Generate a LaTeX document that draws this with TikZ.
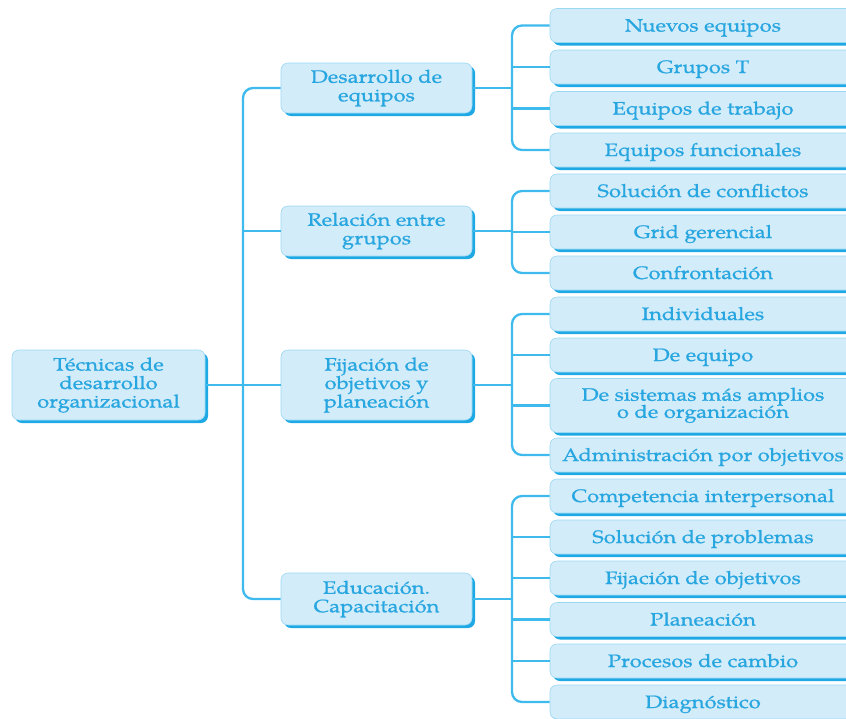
\documentclass[tikz,border=0pt]{standalone}
\usepackage{fontspec}
\setmainfont[FakeStretch=1.22,FakeBold=0.8]{TeX Gyre Pagella}
\usetikzlibrary{shadows}
\definecolor{fillblue}{RGB}{210,236,250}
\definecolor{edgeblue}{RGB}{30,168,228}
\definecolor{textblue}{RGB}{40,166,224}
\definecolor{lineblue}{RGB}{62,186,237}
\begin{document}
\begin{tikzpicture}[x=1pt,y=-1pt,
  box/.style={fill=fillblue, draw=edgeblue!45, line width=0.6pt, rounded corners=7pt,
    text=textblue, align=center, inner sep=0pt,
    font=\fontsize{18}{18.5}\selectfont,
    drop shadow={shadow xshift=3pt, shadow yshift=-3pt, fill=edgeblue, opacity=1}},
  leafbase/.style={box, minimum width=306pt, minimum height=34pt},
  leaf/.style={leafbase, text height=13pt, text depth=1pt},
  mid/.style={box, minimum width=191pt},
  conn/.style={draw=lineblue, line width=2.3pt}]
\useasboundingbox (0,0) rectangle (846,718);
\clip (0,0) rectangle (846,718);
% root
\node[box, minimum width=193pt, minimum height=70pt] (root) at (108.5,385) {Técnicas de\\desarrollo\\organizacional};
% level 1
\node[mid, minimum height=50pt] (d1) at (376.5,88) {Desarrollo de\\equipos};
\node[mid, minimum height=50pt] (d2) at (376.5,231) {Relación entre\\grupos};
\node[mid, minimum height=70pt] (d3) at (376.5,385) {Fijación de\\objetivos y\\planeación};
\node[mid, minimum height=52pt] (d4) at (376.5,599) {Educación.\\Capacitación};
% leaves
\node[leaf] (l1) at (703,25.5) {Nuevos equipos};
\node[leaf] (l2) at (703,67) {Grupos T};
\node[leaf] (l3) at (703,108.5) {Equipos de trabajo};
\node[leaf] (l4) at (703,150) {Equipos funcionales};
\node[leaf] (l5) at (703,191) {Solución de conflictos};
\node[leaf] (l6) at (703,232) {Grid gerencial};
\node[leaf] (l7) at (703,273) {Confrontación};
\node[leaf] (l8) at (703,314) {Individuales};
\node[leaf] (l9) at (703,355) {De equipo};
\node[leafbase, minimum height=54pt] (l10) at (703,405.5) {\raisebox{-1.5pt}{\begin{tabular}{@{}c@{}}De sistemas más amplios\\[-1.5pt]o de organización\end{tabular}}};
\node[leaf] (l11) at (703,455) {Administración por objetivos};
\node[leaf] (l12) at (703,496) {Competencia interpersonal};
\node[leaf] (l13) at (703,537) {Solución de problemas};
\node[leaf] (l14) at (703,578) {Fijación de objetivos};
\node[leaf] (l15) at (703,619.5) {Planeación};
\node[leaf] (l16) at (703,661) {Procesos de cambio};
\node[leaf] (l17) at (703,702) {Diagnóstico};
% connectors
\coordinate (tx) at (243,0);
\coordinate (bx) at (512,0);
\draw[conn, rounded corners=10pt] (d1.west) -- (d1.west -| tx) -- (d4.west -| tx) -- (d4.west);
\draw[conn] (d2.west) -- (d2.west -| tx);
\draw[conn] (root.east) -- (d3.west);
% group 1
\draw[conn] (d1.east) -- (d1.east -| bx);
\draw[conn, rounded corners=10pt] (l1.west) -- (l1.west -| bx) -- (l4.west -| bx) -- (l4.west);
\draw[conn] (l2.west) -- (l2.west -| bx);
\draw[conn] (l3.west) -- (l3.west -| bx);
% group 2
\draw[conn] (d2.east) -- (d2.east -| bx);
\draw[conn, rounded corners=10pt] (l5.west) -- (l5.west -| bx) -- (l7.west -| bx) -- (l7.west);
\draw[conn] (l6.west) -- (l6.west -| bx);
% group 3
\draw[conn] (d3.east) -- (d3.east -| bx);
\draw[conn, rounded corners=10pt] (l8.west) -- (l8.west -| bx) -- (l11.west -| bx) -- (l11.west);
\draw[conn] (l9.west) -- (l9.west -| bx);
\draw[conn] (l10.west) -- (l10.west -| bx);
% group 4
\draw[conn] (d4.east) -- (d4.east -| bx);
\draw[conn, rounded corners=10pt] (l12.west) -- (l12.west -| bx) -- (l17.west -| bx) -- (l17.west);
\draw[conn] (l13.west) -- (l13.west -| bx);
\draw[conn] (l14.west) -- (l14.west -| bx);
\draw[conn] (l15.west) -- (l15.west -| bx);
\draw[conn] (l16.west) -- (l16.west -| bx);
\end{tikzpicture}
\end{document}
